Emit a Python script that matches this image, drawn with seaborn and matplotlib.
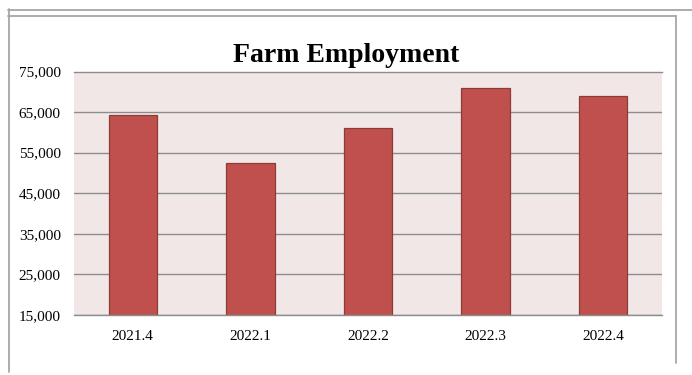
import matplotlib
matplotlib.use("Agg")
import matplotlib.pyplot as plt
import seaborn as sns
import pandas as pd
from matplotlib.lines import Line2D
from matplotlib.ticker import FuncFormatter, FixedLocator

categories = ["2021.4", "2022.1", "2022.2", "2022.3", "2022.4"]
values = [64300, 52500, 61200, 71000, 69000]
yticks = [15000, 25000, 35000, 45000, 55000, 65000, 75000]
title = "Farm Employment"

df = pd.DataFrame({"quarter": categories, "employment": values})

sns.set_theme(style="white")
plt.rcParams["font.family"] = ["Liberation Serif", "DejaVu Serif"]

W, H = 692, 375
fig = plt.figure(figsize=(W / 100, H / 100), dpi=100)
fig.patch.set_facecolor("white")
ax = fig.add_axes([74 / W, 1 - 315 / H, (662 - 74) / W, (315 - 71.5) / H])
ax.set_facecolor("#F2E7E7")

sns.barplot(data=df, x="quarter", y="employment", ax=ax, color="#C0504D",
            edgecolor="#8E3A38", linewidth=0.9, width=0.41, saturation=1)

grid_c = "#8C8C8C"
ax.set_ylim(yticks[0], yticks[-1])
ax.set_xlim(-0.5, len(categories) - 0.5)
ax.set_yticks(yticks)
ax.yaxis.set_major_formatter(FuncFormatter(lambda v, p: f"{int(v):,}"))
ax.yaxis.grid(True, color=grid_c, linewidth=1.0)
ax.set_axisbelow(True)

ax.set_xlabel("")
ax.set_ylabel("")
ax.xaxis.set_minor_locator(FixedLocator([i - 0.5 for i in range(len(categories) + 1)]))
ax.tick_params(axis="x", which="major", length=0, pad=11, labelsize=11, colors="black")
ax.tick_params(axis="x", which="minor", length=4, width=1, color=grid_c, direction="out")
ax.tick_params(axis="y", which="major", length=4, width=1, color=grid_c, direction="out",
               pad=5.5, labelsize=11, labelcolor="black")

for s in ["left", "right"]:
    ax.spines[s].set_visible(False)
for s in ["top", "bottom"]:
    ax.spines[s].set_visible(True)
    ax.spines[s].set_color(grid_c)
    ax.spines[s].set_linewidth(1.0)

fig.text(346 / W, 1 - 61.5 / H, title, ha="center", va="baseline",
         fontsize=20, fontweight="bold", color="black")

# chart frame lines
bc = "#A6A6A6"
def fl(x0, y0, x1, y1):
    fig.add_artist(Line2D([x0 / W, x1 / W], [1 - y0 / H, 1 - y1 / H],
                          transform=fig.transFigure, color=bc, linewidth=1.3))
fl(8, 9.5, 692, 9.5)
fl(8.5, 9, 8.5, 372)
fl(8, 16, 676, 16)
fl(676, 16, 676, 363)

fig.savefig("out.png", dpi=100)
